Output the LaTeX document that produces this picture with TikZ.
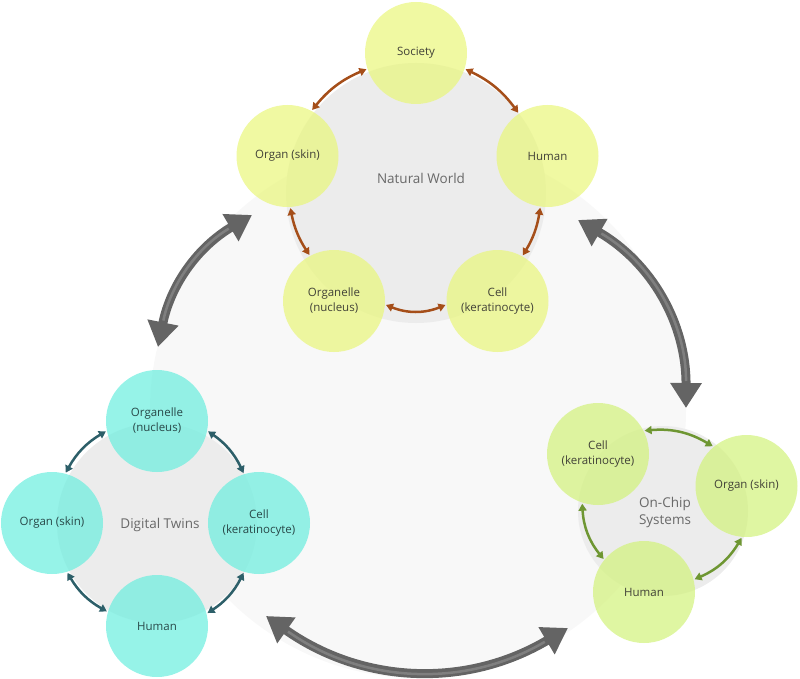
\documentclass[tikz,border=0pt]{standalone}
\usepackage{fontspec}
\setmainfont{Open Sans}
\usetikzlibrary{arrows.meta,positioning}

\definecolor{natfill}{RGB}{233,246,122}
\definecolor{dtfill}{RGB}{105,238,222}
\definecolor{ocfill}{RGB}{210,242,122}
\definecolor{natbrown}{RGB}{165,78,25}
\definecolor{dtteal}{RGB}{45,95,105}
\definecolor{ocgreen}{RGB}{110,150,50}
\definecolor{discgray}{RGB}{236,236,236}
\definecolor{bgpale}{RGB}{248,248,248}
\definecolor{arrgray}{RGB}{100,100,100}
\definecolor{lbltext}{RGB}{65,65,55}
\definecolor{dtlbltext}{RGB}{40,72,72}
\definecolor{grptext}{RGB}{105,105,105}

\begin{document}
\begin{tikzpicture}[x=1pt,y=1pt,font=\fontsize{11.5}{15}\selectfont,
  blob/.style={circle,minimum size=102pt,inner sep=0pt,align=center,fill opacity=0.7,text opacity=1},
  natcirc/.style={blob,fill=natfill,text=lbltext},
  dtcirc/.style={blob,fill=dtfill,text=dtlbltext},
  occirc/.style={blob,fill=ocfill,text=lbltext},
  grplbl/.style={font=\fontsize{13.5}{17}\selectfont,text=grptext,align=center},
  smallarr/.style={line width=2.5pt,{Triangle[length=7pt,width=8pt]}-{Triangle[length=7pt,width=8pt]},shorten <=1pt,shorten >=1pt},
  bigarr/.style={line width=9pt,draw=arrgray,{Triangle[length=25pt,width=30pt]}-{Triangle[length=25pt,width=30pt]}},
  bigshine/.style={line width=2.5pt,draw=white,draw opacity=0.18,shorten <=27pt,shorten >=27pt}]

  \useasboundingbox (0,0) rectangle (800,-679);
  \fill[bgpale] (418,-410) circle[radius=268];

  % grey discs behind each group
  \fill[discgray] (416,-193) circle[radius=130];
  \fill[discgray] (157,-523) circle[radius=100];
  \fill[discgray] (663,-511) circle[radius=85];

  % natural world
  \foreach \pos/\nm/\txt in {{416,-53}/nSoc/Society,{287.5,-156}/nOrg/Organ (skin),{547.5,-156}/nHum/Human,
      {334,-301}/nOrgl/{Organelle\\(nucleus)},{497.5,-301}/nCell/{Cell\\(keratinocyte)}}
    \node[natcirc] (\nm) at (\pos) {\txt};
  \node[grplbl] (nwLbl) at (421,-178) {Natural World};

  % digital twins
  \foreach \pos/\nm/\txt in {{157,-421}/dOrgl/{Organelle\\(nucleus)},{52,-523}/dOrg/Organ (skin),
      {259,-523}/dCell/{Cell\\(keratinocyte)},{157,-626}/dHum/Human}
    \node[dtcirc] (\nm) at (\pos) {\txt};
  \node[grplbl] (dtLbl) at (160,-525) {Digital Twins};

  % on-chip systems
  \foreach \pos/\nm/\txt in {{598,-454}/cCell/{Cell\\(keratinocyte)},{746.5,-486}/cOrg/Organ (skin),{644,-592}/cHum/Human}
    \node[occirc] (\nm) at (\pos) {\txt};
  \node[grplbl] (ocLbl) at (665,-512) {On-Chip\\Systems};

  \foreach \a/\b/\bnd in {nSoc.198/nOrg.62/-14,nSoc.342/nHum.124/14,nOrg.273/nOrgl.118/-11,
      nHum.262/nCell.61/11,nOrgl.356/nCell.184/-22}
    \draw[smallarr,draw=natbrown] (\a) to[bend left=\bnd] (\b);
  \foreach \a/\b/\bnd in {dOrgl.191/dOrg.75/-15,dOrgl.349/dCell.107/15,dOrg.287/dHum.164/-15,dCell.253/dHum.14/15}
    \draw[smallarr,draw=dtteal] (\a) to[bend left=\bnd] (\b);
  \foreach \a/\b/\bnd in {cCell.27/cOrg.130/18,cCell.252/cHum.141/-18,cOrg.265/cHum.14/18}
    \draw[smallarr,draw=ocgreen] (\a) to[bend left=\bnd] (\b);

  % big arrows between the groups
  \coordinate (lA) at (252,-215);
  \coordinate (lB) at (158,-347);
  \coordinate (rA) at (578,-220);
  \coordinate (rB) at (686,-408);
  \coordinate (bA) at (266,-616);
  \coordinate (bB) at (568,-628);
  \foreach \a/\b/\bnd in {lA/lB/-24,rA/rB/30,bA/bB/-33}{
    \draw[bigarr] (\a) to[bend left=\bnd] (\b);
    \draw[bigshine] (\a) to[bend left=\bnd] (\b);
  }
\end{tikzpicture}
\end{document}
